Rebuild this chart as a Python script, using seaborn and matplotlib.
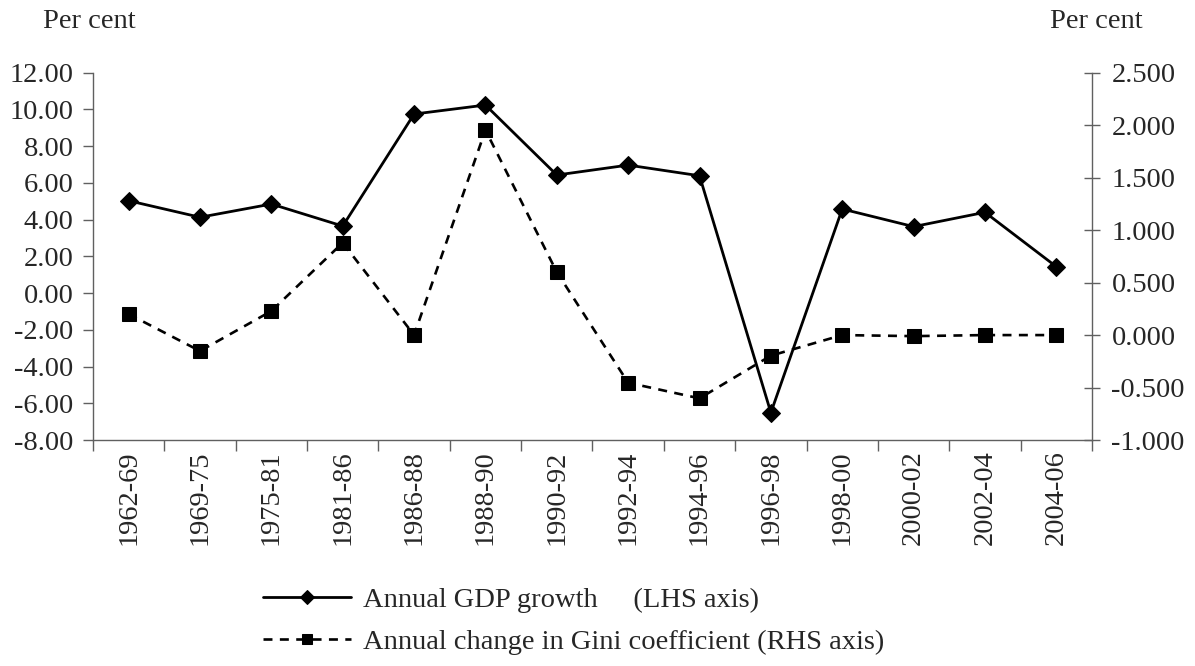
import numpy as np
import pandas as pd
import matplotlib
matplotlib.use("Agg")
import matplotlib.pyplot as plt
from matplotlib.ticker import FixedLocator, FormatStrFormatter
import seaborn as sns

# Period labels
periods = ["1962-69", "1969-75", "1975-81", "1981-86", "1986-88", "1988-90", "1990-92",
           "1992-94", "1994-96", "1996-98", "1998-00", "2000-02", "2002-04", "2004-06"]

# Annual GDP growth, per cent (left axis)
gdp_growth = [5.03, 4.13, 4.85, 3.65, 9.75, 10.24, 6.43, 6.97, 6.39, -6.51, 4.58, 3.62, 4.40, 1.44]

# Annual change in Gini coefficient, per cent (right axis)
gini_change = [0.20, -0.152, 0.229, 0.88, 0.0, 1.954, 0.60, -0.454, -0.603, -0.196, 0.0, -0.01, 0.0, 0.0]

lhs_ticks = [-8, -6, -4, -2, 0, 2, 4, 6, 8, 10, 12]
rhs_ticks = [-1.0, -0.5, 0.0, 0.5, 1.0, 1.5, 2.0, 2.5]

gdp_label = "Annual GDP growth     (LHS axis)"
gini_label = "Annual change in Gini coefficient (RHS axis)"

FS = 20.5

sns.set_style("ticks")
plt.rcParams["font.family"] = ["Liberation Serif", "DejaVu Serif"]
plt.rcParams["font.size"] = FS

df = pd.DataFrame({
    "pos": np.arange(len(periods)),
    "period": periods,
    "gdp": gdp_growth,
    "gini": gini_change,
})

fig = plt.figure(figsize=(11.95, 6.66), dpi=100)
ax = fig.add_axes([0.0778, 0.3393, 0.836, 0.5515])
ax2 = ax.twinx()

spine_col = "#606060"

sns.lineplot(data=df, x="pos", y="gdp", ax=ax, color="black", lw=2.0,
             marker="D", markersize=9.5, markeredgecolor="black",
             label=gdp_label, legend=False)
sns.lineplot(data=df, x="pos", y="gini", ax=ax2, color="black", lw=1.9,
             linestyle=(0, (3.4, 2.8)), marker="s", markersize=9.5,
             markeredgecolor="black", label=gini_label, legend=False)

n = len(periods)
ax.set_xlim(-0.5, n - 0.5)
ax.set_ylim(-8, 12)
ax2.set_ylim(-1.0, 2.5)

# category boundaries carry tick marks, centres carry the labels
ax.xaxis.set_major_locator(FixedLocator(np.arange(n + 1) - 0.5))
ax.xaxis.set_minor_locator(FixedLocator(np.arange(n)))
ax.set_xticklabels([], minor=False)
ax.set_xticklabels(periods, minor=True, rotation=90)
ax.tick_params(axis="x", which="major", length=8, width=1, color=spine_col, direction="out")
ax.tick_params(axis="x", which="minor", length=0, pad=7.5, labelsize=FS)

ax.set_yticks(lhs_ticks)
ax.yaxis.set_major_formatter(FormatStrFormatter("%.2f"))
ax.tick_params(axis="y", length=7, width=1, color=spine_col, direction="out", labelsize=FS, pad=7)

ax2.set_yticks(rhs_ticks)
ax2.yaxis.set_major_formatter(FormatStrFormatter("%.3f"))
ax2.tick_params(axis="y", length=11, width=1, color=spine_col, direction="inout", labelsize=FS, pad=8.5)

ax.set_xlabel("")
ax.set_ylabel("")
ax2.set_ylabel("")

for a in (ax, ax2):
    a.spines["top"].set_visible(False)
    for s in ("left", "right", "bottom"):
        a.spines[s].set_color(spine_col)
        a.spines[s].set_linewidth(1)
ax.spines["right"].set_visible(False)
ax2.spines["left"].set_visible(False)
ax2.spines["bottom"].set_visible(False)

fig.text(0.0357, 0.968, "Per cent", fontsize=FS, va="center", ha="left")
fig.text(0.8787, 0.968, "Per cent", fontsize=FS, va="center", ha="left")

h1, l1 = ax.get_legend_handles_labels()
h2, l2 = ax2.get_legend_handles_labels()
fig.legend(h1 + h2, l1 + l2, loc="upper left", bbox_to_anchor=(263 / 1195, 1 - 587 / 666),
           frameon=False, borderpad=0, borderaxespad=0, handlelength=3.1, handletextpad=0.4,
           labelspacing=0.55, markerscale=0.75, fontsize=FS)

fig.savefig("out.png", dpi=100, facecolor="white")
